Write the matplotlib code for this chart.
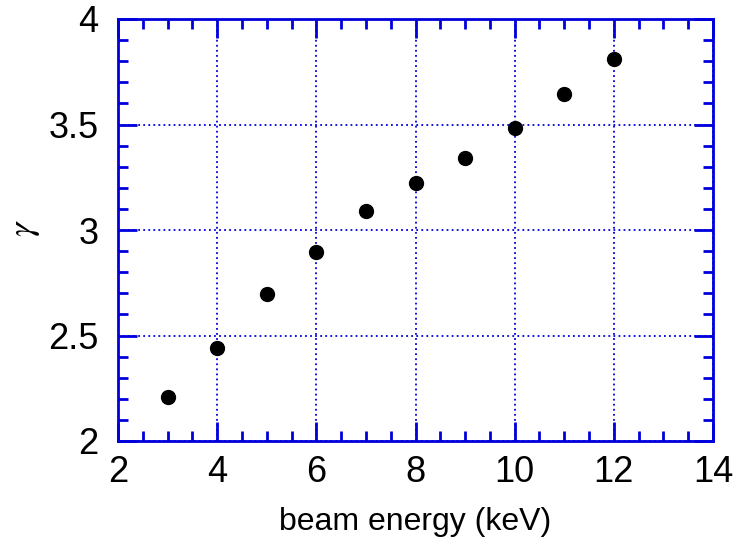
import matplotlib
matplotlib.use("Agg")
import matplotlib.pyplot as plt
from matplotlib.ticker import MultipleLocator

energy = [3, 4, 5, 6, 7, 8, 9, 10, 11, 12]
gamma = [2.21, 2.44, 2.695, 2.895, 3.09, 3.225, 3.34, 3.485, 3.645, 3.81]

plt.rcParams['font.family'] = ['Liberation Sans', 'DejaVu Sans']
plt.rcParams['mathtext.fontset'] = 'stix'

fig = plt.figure(figsize=(7.36, 5.47), dpi=100)
ax = fig.add_axes([118/736, 1 - 441/547, (713-118)/736, (441-19)/547])

blue = '#0000dd'
ax.plot(energy, gamma, 'o', color='black', markersize=10, zorder=3)

ax.set_xlim(2, 14)
ax.set_ylim(2, 4)
ax.xaxis.set_major_locator(MultipleLocator(2))
ax.xaxis.set_minor_locator(MultipleLocator(0.5))
ax.yaxis.set_minor_locator(MultipleLocator(0.1))
ax.set_yticks([2, 2.5, 3, 3.5, 4])
ax.set_yticklabels(['2', '2.5', '3', '3.5', '4'])

for s in ax.spines.values():
    s.set_color(blue)
    s.set_linewidth(2)

ax.tick_params(which='both', direction='in', top=True, right=True, color=blue,
               labelsize=26, labelcolor='black')
ax.tick_params(which='major', length=14, width=2)
ax.tick_params(axis='x', which='major', pad=10)
ax.tick_params(axis='y', which='major', pad=14)
ax.tick_params(which='minor', length=7, width=2)

ax.grid(True, which='major', color=blue, linestyle=(0, (1.0, 1.8)), linewidth=1.3)

ax.set_xlabel('beam energy (keV)', fontsize=23, labelpad=12)
fig.text(24/736, 1 - 228/547, r'$\gamma$', rotation=90, ha='center', va='center', fontsize=26)

fig.savefig('out.png', dpi=100)
